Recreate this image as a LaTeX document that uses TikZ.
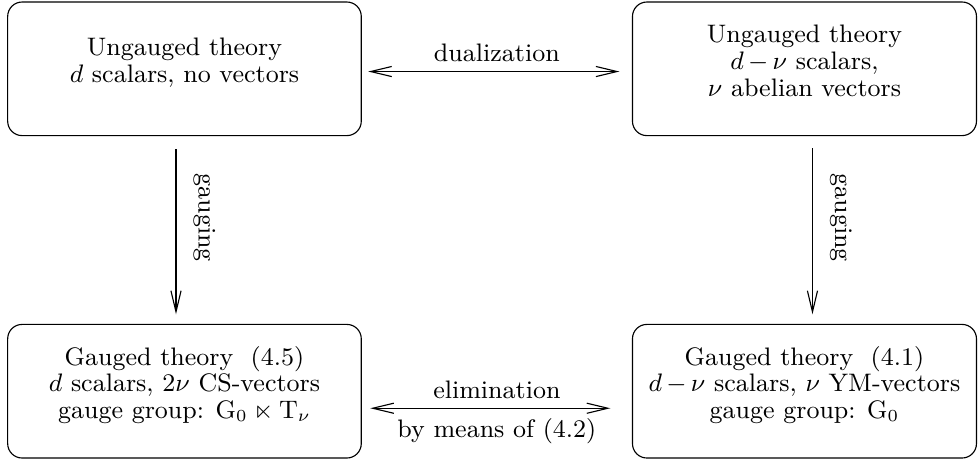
\documentclass[tikz,border=0pt]{standalone}
\usepackage{amssymb, amsmath}
\usepackage{tikz}
\usetikzlibrary{arrows.meta}
\tikzset{theorybox/.style={draw, rounded corners=0.18cm, minimum height=1.67cm, inner sep=0pt},
  gaugelabel/.style={pos=0.435, anchor=south, rotate=-90, inner sep=6pt}}
\newcommand{\boxlines}[1]{\raisebox{0.06cm}[\height][\depth]{\def\arraystretch{0.88}\begin{tabular}{@{}c@{}}#1\end{tabular}}}

\begin{document}
\begin{tikzpicture}[font=\fontsize{9}{10.8}\selectfont, >={Straight Barb[length=7.5pt,width=3.6pt]}]

\useasboundingbox (0,0) rectangle (12.225,-5.7875);

% nodes

\node [style = theorybox, minimum width=4.42cm] (ungaugedL) at (2.306,-0.86) {\boxlines{Ungauged theory\\ $d$ scalars, no vectors}};
\node [style = theorybox, minimum width=4.3cm] (ungaugedR) at (10.056,-0.86) {\boxlines{Ungauged theory\\ $d\,{-}\,\nu$ scalars,\\ $\nu$ abelian vectors}};
\node [style = theorybox, minimum width=4.42cm] (gaugedL) at (2.306,-4.89) {\boxlines{Gauged theory\ \ (4.5)\\ $d$ scalars, $2\nu$ CS-vectors\\ gauge group: $\mathrm{G}_0\ltimes\mathrm{T}_\nu$}};
\node [style = theorybox, minimum width=4.3cm] (gaugedR) at (10.056,-4.89) {\boxlines{Gauged theory\ \ (4.1)\\ $d\,{-}\,\nu$ scalars, $\nu$ YM-vectors\\ gauge group: $\mathrm{G}_0$}};

% edges

\draw [<->, shorten <=0.08cm, shorten >=0.156cm] ([yshift=-0.034cm]ungaugedL.east) to node[above] {dualization} ([yshift=-0.034cm]ungaugedR.west);
\draw [<->, shorten <=0.106cm, shorten >=0.27cm] ([yshift=-0.213cm]gaugedL.east) to node[above] {elimination} node[below] {by means of (4.2)} ([yshift=-0.213cm]gaugedR.west);
\draw [->, shorten <=0.1625cm, shorten >=0.12cm] ([xshift=-0.106cm]ungaugedL.south) to node[gaugelabel] {gauging} ([xshift=-0.106cm]gaugedL.north);
\draw [->, shorten <=0.15cm, shorten >=0.12cm] ([xshift=0.1cm]ungaugedR.south) to node[gaugelabel] {gauging} ([xshift=0.1cm]gaugedR.north);

\end{tikzpicture}
\end{document}
